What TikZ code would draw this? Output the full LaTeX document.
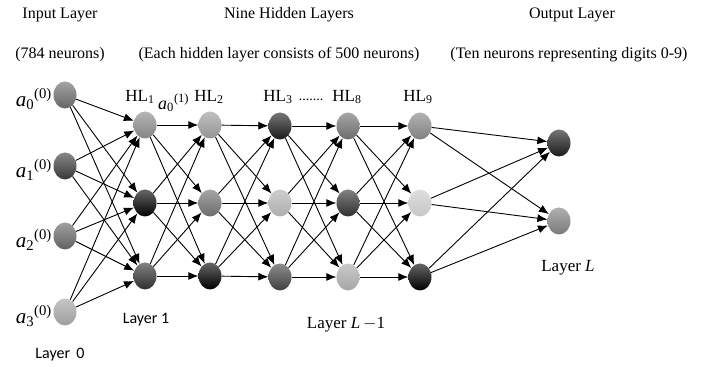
\documentclass[tikz,border=0pt]{standalone}
\usepackage{fontspec}
\setmainfont{Liberation Serif}
\newfontfamily\layerfont{Carlito}
\usetikzlibrary{arrows.meta,shapes.geometric}

\tikzset{
  neuron/.style={ellipse, minimum width=23pt, minimum height=27pt, inner sep=0pt,
    shading=axis, top color=black!#1!white!60, bottom color=black!#1, draw=none},
  link/.style={line width=0.9pt, -{Latex[length=10pt,width=8pt]}},
  title/.style={font=\fontsize{16}{18}\selectfont, inner sep=0pt},
  hlabel/.style={font=\fontsize{17}{19}\selectfont, inner sep=0pt},
  alabel/.style={font=\fontsize{21}{23}\selectfont, inner sep=0pt, anchor=east},
  layerlabel/.style={font=\layerfont\fontsize{16}{18}\selectfont, inner sep=0pt}
}

\begin{document}
\begin{tikzpicture}[x=1pt, y=-1pt]
  %%%%% START %%%%%
  \useasboundingbox (0,0) rectangle (702,371);

  % titles
  \node[title] (intitle) at (60,15) {Input Layer};
  \node[title] (incount) at (60,55) {(784 neurons)};
  \node[title] (hidtitle) at (289,15) {Nine Hidden Layers};
  \node[title] (hidcount) at (279,55) {(Each hidden layer consists of 500 neurons)};
  \node[title] (outtitle) at (572,15) {Output Layer};
  \node[title] (outcount) at (569,55) {(Ten neurons representing digits 0-9)};

  % input layer
  \node[neuron=60] (in0) at (65,95) {};
  \node[neuron=78] (in1) at (65,166) {};
  \node[neuron=62] (in2) at (65,236) {};
  \node[neuron=38] (in3) at (65,312) {};

  % HL1
  \node[neuron=48] (ha0) at (145,125) {};
  \node[neuron=100] (ha1) at (145,203) {};
  \node[neuron=82] (ha2) at (145,276) {};
  % HL2
  \node[neuron=42] (hb0) at (210,125) {};
  \node[neuron=58] (hb1) at (210,203) {};
  \node[neuron=100] (hb2) at (210,276) {};
  % HL3
  \node[neuron=90] (hc0) at (280,126) {};
  \node[neuron=32] (hc1) at (280,203) {};
  \node[neuron=75] (hc2) at (280,277) {};
  % HL8
  \node[neuron=58] (hd0) at (348,126) {};
  \node[neuron=82] (hd1) at (348,203) {};
  \node[neuron=35] (hd2) at (348,277) {};
  % HL9
  \node[neuron=50] (he0) at (420,126) {};
  \node[neuron=22] (he1) at (420,203) {};
  \node[neuron=100] (he2) at (420,277) {};

  % output layer
  \node[neuron=90] (out0) at (559,143) {};
  \node[neuron=52] (out1) at (559,221) {};

  % connections
  \foreach \s in {0,...,3}
    \foreach \t in {0,1,2}
      \draw[link] (in\s) -- (ha\t);
  \foreach \s in {0,1,2}
    \foreach \t in {0,1,2} {
      \draw[link] (ha\s) -- (hb\t);
      \draw[link] (hb\s) -- (hc\t);
      \draw[link] (hc\s) -- (hd\t);
      \draw[link] (hd\s) -- (he\t);
    }
  \foreach \s in {0,1,2}
    \foreach \t in {0,1}
      \draw[link] (he\s) -- (out\t);

  % neuron labels
  \node[alabel] (la0) at (52,99) {\textit{a}\textsubscript{0}\textsuperscript{(0)}};
  \node[alabel] (la1) at (52,170) {\textit{a}\textsubscript{1}\textsuperscript{(0)}};
  \node[alabel] (la2) at (52,240) {\textit{a}\textsubscript{2}\textsuperscript{(0)}};
  \node[alabel] (la3) at (52,316) {\textit{a}\textsubscript{3}\textsuperscript{(0)}};
  \node[alabel, font=\fontsize{18}{20}\selectfont, anchor=west] (lb0) at (158,103) {\textit{a}\textsubscript{0}\textsuperscript{(1)}};

  % hidden layer labels
  \node[hlabel] (hl1) at (140,97) {HL\textsubscript{1}};
  \node[hlabel] (hl2) at (209,97) {HL\textsubscript{2}};
  \node[hlabel] (hl3) at (278,97) {HL\textsubscript{3}};
  \node[hlabel, font=\fontsize{14}{16}\selectfont] (dots) at (311,100) {.......};
  \node[hlabel] (hl8) at (347,97) {HL\textsubscript{8}};
  \node[hlabel] (hl9) at (418,97) {HL\textsubscript{9}};

  % layer labels
  \node[layerlabel] (layer0) at (60,355) {Layer\, 0};
  \node[layerlabel] (layer1) at (146,320) {Layer 1};
  \node[title, font=\fontsize{17}{19}\selectfont] (layerLm) at (346,325) {Layer \textit{L}\,$-$1};
  \node[title, font=\fontsize{17}{19}\selectfont] (layerL) at (568,268) {Layer \textit{L}};
  %%%%% END %%%%%
\end{tikzpicture}
\end{document}
